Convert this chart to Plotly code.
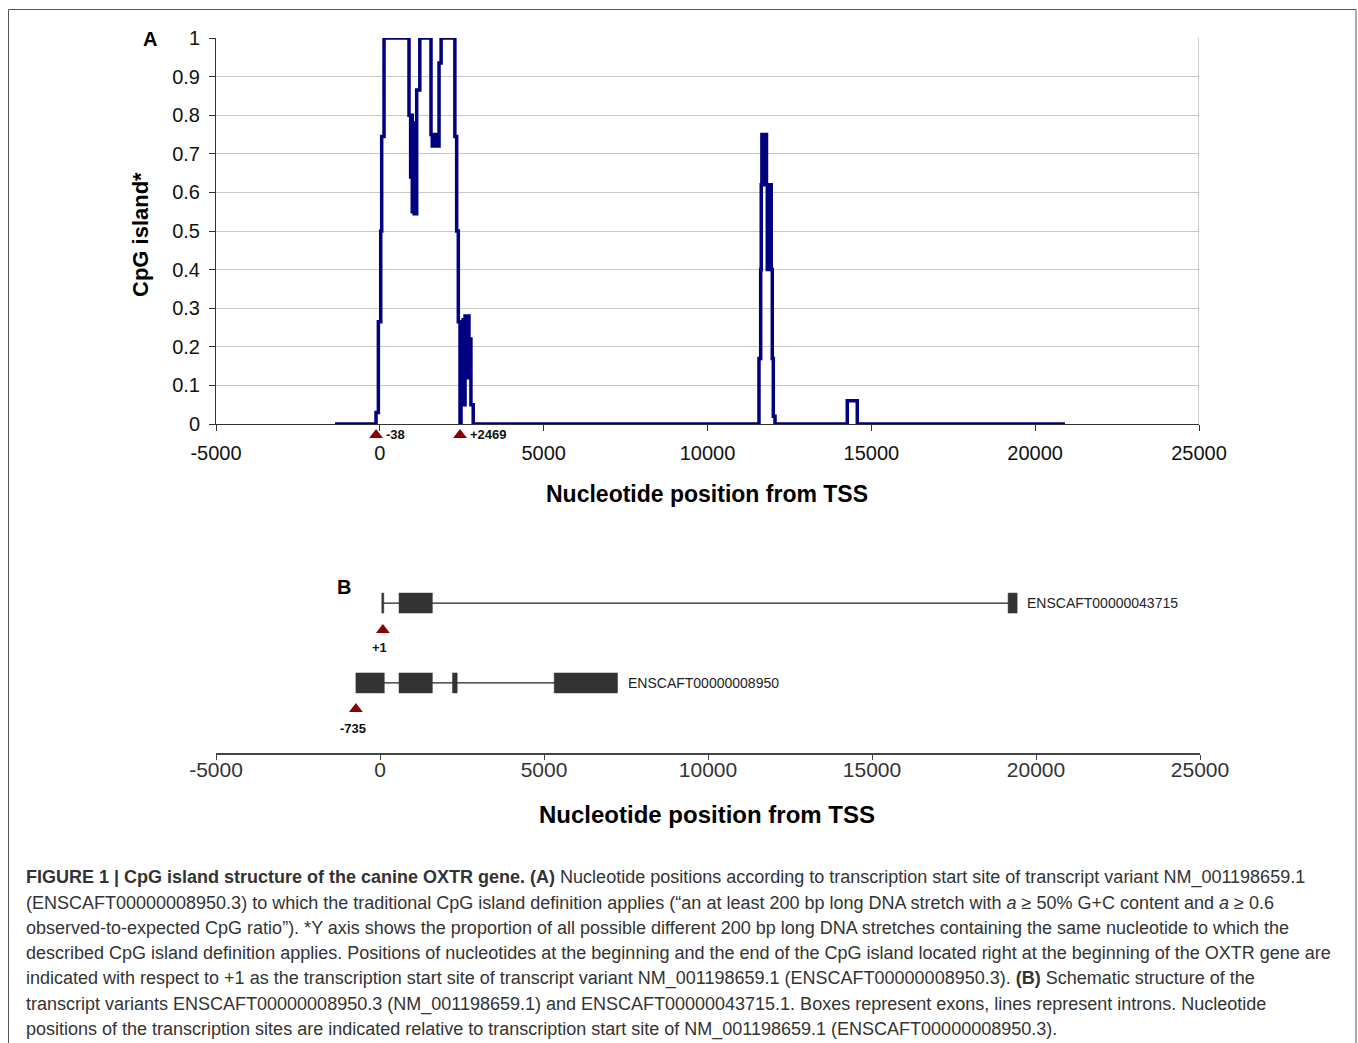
import plotly.graph_objects as go

W, H = 1358, 1043

# ---------------- DATA ----------------
# Panel A: proportion of 200bp windows satisfying the CpG island definition (step curve)
cpg_pos = [-1367, -116, -45, 27, 57, 128, 890, 940, 960, 990, 1020, 1050, 1080, 1110, 1125, 1220,
           1562, 1600, 1650, 1700, 1807, 1870, 2290, 2345, 2395, 2447, 2478, 2510, 2540, 2570,
           2600, 2640, 2680, 2720, 2780, 2850,
           11571, 11623, 11640, 11660, 11680, 11700, 11720, 11740, 11760, 11780, 11800, 11825,
           11845, 11865, 11885, 11905, 11925, 11945, 11977, 12008, 12060,
           14266, 14571, 20910]
cpg_val = [0, 0.03, 0.265, 0.50, 0.745, 1.0, 0.80, 0.64, 0.80, 0.55, 0.78, 0.545, 0.70, 0.545, 0.865, 1.0,
           0.75, 0.72, 0.75, 0.72, 0.935, 1.0, 0.745, 0.50, 0.265, 0, 0.25, 0.10, 0.27, 0.05,
           0.28, 0.12, 0.28, 0.22, 0.05, 0,
           0.17, 0.40, 0.62, 0.75, 0.62, 0.75, 0.62, 0.75, 0.62, 0.75, 0.62, 0.40,
           0.62, 0.40, 0.62, 0.40, 0.62, 0.40, 0.17, 0.02, 0,
           0.06, 0, 0]

island_marks = [-115, 2447]
island_labels = ["-38", "+2469"]

x_ticks = [-5000, 0, 5000, 10000, 15000, 20000, 25000]
x_ticktext = ["-5000", "0", "5000", "10000", "15000", "20000", "25000"]
y_ticks = [0, 0.1, 0.2, 0.3, 0.4, 0.5, 0.6, 0.7, 0.8, 0.9, 1]
y_ticktext = ["0", "0.1", "0.2", "0.3", "0.4", "0.5", "0.6", "0.7", "0.8", "0.9", "1"]

# Panel B: transcripts
transcripts = ["ENSCAFT00000043715", "ENSCAFT00000008950"]
tx_start = [85, -735]
tx_end = [19425, 7241]
exon_starts = [[55, 580, 19150], [-735, 580, 2210, 5311]]
exon_ends = [[115, 1596, 19425], [131, 1596, 2354, 7241]]
tss_pos = [88, -735]
tss_labels = ["+1", "-735"]

caption_lines = [
    "<b>FIGURE 1 | CpG island structure of the canine OXTR gene. (A)</b> Nucleotide positions according to transcription start site of transcript variant NM_001198659.1",
    "(ENSCAFT00000008950.3) to which the traditional CpG island definition applies (“an at least 200 bp long DNA stretch with <i>a</i> ≥ 50% G+C content and <i>a</i> ≥ 0.6",
    "observed-to-expected CpG ratio”). *Y axis shows the proportion of all possible different 200 bp long DNA stretches containing the same nucleotide to which the",
    "described CpG island definition applies. Positions of nucleotides at the beginning and the end of the CpG island located right at the beginning of the OXTR gene are",
    "indicated with respect to +1 as the transcription start site of transcript variant NM_001198659.1 (ENSCAFT00000008950.3). <b>(B)</b> Schematic structure of the",
    "transcript variants ENSCAFT00000008950.3 (NM_001198659.1) and ENSCAFT00000043715.1. Boxes represent exons, lines represent introns. Nucleotide",
    "positions of the transcription sites are indicated relative to transcription start site of NM_001198659.1 (ENSCAFT00000008950.3).",
]

# ---------------- LAYOUT HELPERS ----------------
def px(x):
    return x / W

def py(y):
    return 1 - y / H

FONT = "Liberation Sans, Arial, sans-serif"
DARKRED = "#8b0000"

fig = go.Figure()

# Panel A curve
fig.add_trace(go.Scatter(x=cpg_pos, y=cpg_val, mode="lines", line=dict(color="#000080", width=3.5, shape="hv"),
                         cliponaxis=False, xaxis="x", yaxis="y", showlegend=False, hoverinfo="skip"))
# Panel A island boundary markers (drawn on a thin overlay strip just below the axis)
fig.add_trace(go.Scatter(x=island_marks, y=[0.5] * len(island_marks), mode="markers",
                         marker=dict(symbol="triangle-up", size=12, color=DARKRED),
                         cliponaxis=False, xaxis="x", yaxis="y3", showlegend=False, hoverinfo="skip"))

ROW_Y = [0.882, 0.412]
HALF = 0.0588
shapes = []
annotations = []
for m, lab in zip(island_marks, island_labels):
    annotations.append(dict(x=m, y=0.5, xref="x", yref="y3", text="<b>" + lab + "</b>", showarrow=False,
                            xanchor="left", yanchor="middle", xshift=8,
                            font=dict(family=FONT, size=13, color="#111")))

for i, name in enumerate(transcripts):
    ry = ROW_Y[i]
    shapes.append(dict(type="line", xref="x2", yref="y2", x0=tx_start[i], x1=tx_end[i], y0=ry, y1=ry,
                       line=dict(color="#222", width=1.3)))
    for s, e in zip(exon_starts[i], exon_ends[i]):
        shapes.append(dict(type="rect", xref="x2", yref="y2", x0=s, x1=e, y0=ry - HALF, y1=ry + HALF,
                           fillcolor="#333333", line=dict(color="#333333", width=0.5)))
    annotations.append(dict(x=tx_end[i], y=ry, xref="x2", yref="y2", text=name, showarrow=False,
                            xanchor="left", yanchor="middle", xshift=8,
                            font=dict(family=FONT, size=14, color="#222")))

# TSS triangles in panel B
fig.add_trace(go.Scatter(x=tss_pos, y=[ROW_Y[0] - 0.158, ROW_Y[1] - 0.153], mode="markers",
                         marker=dict(symbol="triangle-up", size=12, color=DARKRED),
                         cliponaxis=False, xaxis="x2", yaxis="y2", showlegend=False, hoverinfo="skip"))
for i, lab in enumerate(tss_labels):
    annotations.append(dict(x=tss_pos[i], y=[ROW_Y[0] - 0.264, ROW_Y[1] - 0.265][i], xref="x2", yref="y2",
                            text="<b>" + lab + "</b>", showarrow=False, xanchor="center", yanchor="middle",
                            xshift=-3, font=dict(family=FONT, size=13, color="#111")))

# Right gray frame line of panel A
shapes.append(dict(type="line", xref="x", yref="y", x0=25000, x1=25000, y0=0, y1=1,
                   line=dict(color="#999", width=1)))
# Outer figure border
shapes.append(dict(type="rect", xref="paper", yref="paper", x0=px(8.5), x1=px(1356), y0=-0.05, y1=py(9.5),
                   line=dict(color="#555", width=1), fillcolor="rgba(0,0,0,0)"))

# Panel letters and titles
def centered(x, y, text, size, angle=0):
    return dict(x=px(x), y=py(y), xref="paper", yref="paper", text=text, showarrow=False,
                xanchor="center", yanchor="middle", textangle=angle,
                font=dict(family=FONT, size=size, color="#000"))

annotations += [
    centered(150, 39, "<b>A</b>", 20),
    centered(344, 587, "<b>B</b>", 20),
    centered(707, 494, "<b>Nucleotide position from TSS</b>", 23),
    centered(707, 814, "<b>Nucleotide position from TSS</b>", 24),
    centered(141, 235, "<b>CpG island*</b>", 22, -90),
]

# Caption
cap_y = [877, 903, 928, 953, 978, 1004, 1029]
for line, yy in zip(caption_lines, cap_y):
    annotations.append(dict(x=px(24), y=py(yy), xref="paper", yref="paper", text=line, showarrow=False,
                            xanchor="left", yanchor="middle",
                            font=dict(family=FONT, size=18, color="#333")))

fig.update_layout(
    width=W, height=H, margin=dict(l=0, r=0, t=0, b=0, autoexpand=False),
    paper_bgcolor="white", plot_bgcolor="white",
    xaxis=dict(domain=[px(216), px(1199)], range=[-5000, 25000], tickvals=x_ticks, ticktext=x_ticktext,
               showgrid=False, zeroline=False, showline=True, linecolor="#333", linewidth=1,
               ticks="outside", ticklen=6, tickcolor="#333", ticklabelstandoff=5, automargin=False,
               tickfont=dict(family=FONT, size=20, color="#111"), anchor="y", fixedrange=True),
    yaxis=dict(domain=[py(424), py(38)], range=[0, 1], tickvals=y_ticks, ticktext=y_ticktext,
               showgrid=True, gridcolor="#c8c8c8", gridwidth=1, zeroline=False,
               showline=True, linecolor="#333", linewidth=1, ticks="outside", ticklen=6, tickcolor="#333",
               ticklabelstandoff=5, automargin=False,
               tickfont=dict(family=FONT, size=20, color="#111"), anchor="x", fixedrange=True),
    yaxis3=dict(domain=[py(445), py(425)], range=[0, 1], visible=False, anchor="x", fixedrange=True,
                automargin=False),
    xaxis2=dict(domain=[px(216), px(1200)], range=[-5000, 25000], tickvals=x_ticks, ticktext=x_ticktext,
                showgrid=False, zeroline=False, showline=True, linecolor="#444", linewidth=1.5,
                ticks="outside", ticklen=5, tickcolor="#444", automargin=False, ticklabelstandoff=-8,
                tickfont=dict(family=FONT, size=21, color="#333"), anchor="y2", fixedrange=True),
    yaxis2=dict(domain=[py(753), py(583)], range=[0, 1], visible=False, anchor="x2", fixedrange=True,
                automargin=False),
    shapes=shapes,
    annotations=annotations,
)

fig.write_html("out.html")
